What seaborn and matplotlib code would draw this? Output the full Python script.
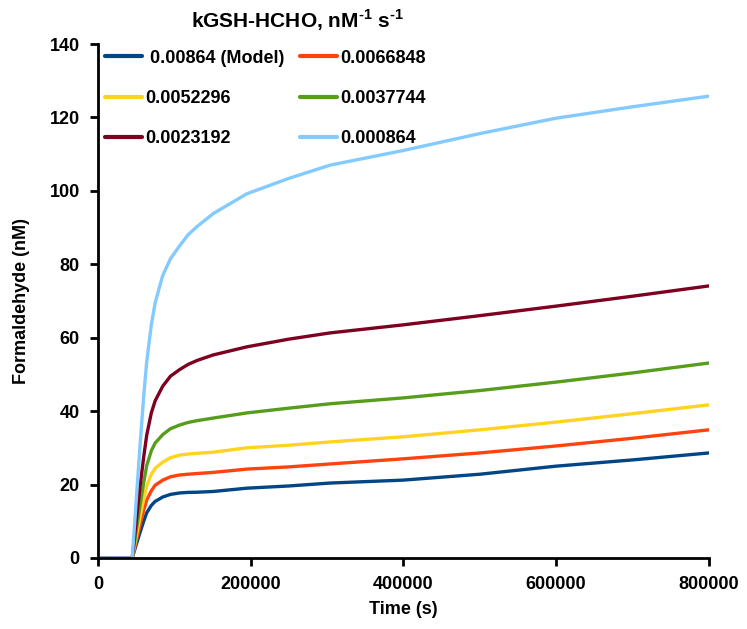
import pandas as pd
import seaborn as sns
import matplotlib.pyplot as plt

# time points (s) and formaldehyde (nM)
time_s = [0, 45000, 50000, 55000, 60000, 64000, 70000, 75000, 85000, 95000,
          107000, 118000, 130000, 151000, 195000, 250000, 304000, 400000,
          500000, 600000, 700000, 800000]

model_00864 = [0, 0, 3.5, 6.8, 10.0, 12.3, 14.3, 15.4, 16.6, 17.3,
               17.7, 17.85, 17.9, 18.1, 19.0, 19.6, 20.4, 21.2,
               22.8, 25.0, 26.7, 28.6]
k_0066848 = [0, 0, 4.5, 8.8, 13.0, 15.8, 18.3, 19.8, 21.2, 22.1,
             22.6, 22.8, 23.0, 23.3, 24.2, 24.8, 25.6, 27.0,
             28.6, 30.5, 32.6, 34.9]
k_0052296 = [0, 0, 5.5, 11.0, 16.0, 19.6, 22.8, 24.4, 26.1, 27.3,
             28.0, 28.3, 28.5, 28.8, 30.0, 30.7, 31.6, 33.0,
             34.9, 37.0, 39.3, 41.7]
k_0037744 = [0, 0, 7.0, 14.0, 20.5, 25.2, 29.2, 31.3, 33.6, 35.2,
             36.2, 36.9, 37.4, 38.1, 39.5, 40.8, 42.0, 43.6,
             45.6, 47.9, 50.4, 53.1]
k_0023192 = [0, 0, 9.5, 19.0, 27.5, 33.5, 39.5, 42.8, 46.8, 49.5,
             51.3, 52.7, 53.8, 55.3, 57.5, 59.6, 61.3, 63.5,
             66.0, 68.6, 71.3, 74.1]
k_000864 = [0, 0, 15.0, 30.0, 44.0, 53.5, 63.5, 69.5, 77.0, 81.5,
            85.0, 88.0, 90.3, 93.8, 99.2, 103.4, 107.0, 111.0,
            115.6, 119.8, 122.9, 125.8]

labels = [" 0.00864 (Model)", "0.0066848", "0.0052296",
          "0.0037744", "0.0023192", "0.000864"]
series = [model_00864, k_0066848, k_0052296, k_0037744, k_0023192, k_000864]
colors = ["#004586", "#ff420e", "#ffd320", "#579d1c", "#7e0021", "#83caff"]

rows = []
for lab, vals in zip(labels, series):
    for t, v in zip(time_s, vals):
        rows.append({"Time": t, "HCHO": v, "k": lab})
df = pd.DataFrame(rows)

sns.set_style("ticks")
plt.rcParams['font.family'] = ['Liberation Sans', 'DejaVu Sans']
plt.rcParams['font.weight'] = 'bold'
plt.rcParams['text.color'] = 'black'
plt.rcParams['axes.labelcolor'] = 'black'
plt.rcParams['xtick.color'] = 'black'
plt.rcParams['ytick.color'] = 'black'
plt.rcParams['axes.edgecolor'] = 'black'
plt.rcParams['mathtext.fontset'] = 'custom'
plt.rcParams['mathtext.rm'] = 'Liberation Sans:bold'
plt.rcParams['mathtext.bf'] = 'Liberation Sans:bold'

fig = plt.figure(figsize=(7.47, 6.29), dpi=100)
ax = fig.add_axes([0.131, 0.113, 0.818, 0.817])

sns.lineplot(data=df, x="Time", y="HCHO", hue="k", palette=colors,
             hue_order=labels, linewidth=2.4, ax=ax, legend=False)

ax.set_xlim(0, 800000)
ax.set_ylim(0, 140)
ax.set_xticks(range(0, 800001, 200000))
ax.set_yticks(range(0, 141, 20))
ax.set_xlabel("Time (s)", fontsize=13, fontweight='bold', labelpad=6)
ax.set_ylabel("Formaldehyde (nM)", fontsize=13, fontweight='bold', labelpad=14)
ax.tick_params(labelsize=13, width=2, length=6, direction='out', pad=7)
for lbl in ax.get_xticklabels() + ax.get_yticklabels():
    lbl.set_fontweight('bold')
for side in ['left', 'bottom']:
    ax.spines[side].set_linewidth(2)
for side in ['top', 'right']:
    ax.spines[side].set_visible(False)
ax.xaxis.set_major_formatter(plt.FuncFormatter(lambda v, p: f"{int(v)}"))

# legend title drawn on its own, slightly right of the legend centre
fig.text(297 / 747, 1 - 20 / 629, "kGSH-HCHO, nM$^{\\text{-1}}$ s$^{\\text{-1}}$",
         fontsize=15, fontweight='bold', ha='center', va='center')

# row-major legend order for two columns
order = [0, 2, 4, 1, 3, 5]
handles = [plt.Line2D([], [], color=colors[i], linewidth=3) for i in order]
leg = ax.legend(handles, [labels[i] for i in order], ncol=2, loc='upper left',
                bbox_to_anchor=(0.005, 0.996), frameon=False,
                prop={'size': 13, 'weight': 'bold'},
                handlelength=2.05, handletextpad=0.2, labelspacing=1.29,
                columnspacing=0.85, borderaxespad=0.0, borderpad=0.2)

fig.savefig("out.png", dpi=100)
